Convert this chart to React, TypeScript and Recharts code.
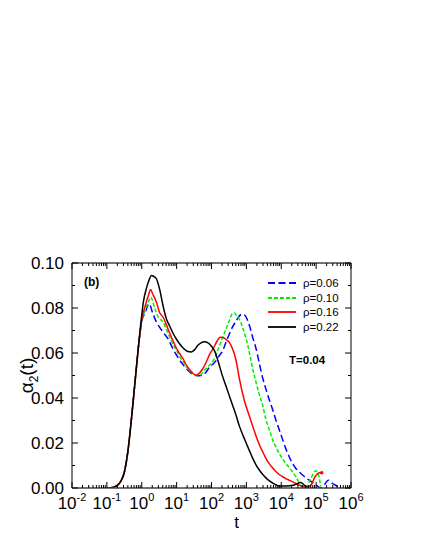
import React from 'react';
import { LineChart, Line, XAxis, YAxis, Legend } from 'recharts';

// ---- data: log10(t) exponents and alpha_2(t) values for each density ----
const expRise = [-1.0, -0.9, -0.8, -0.7, -0.6, -0.5, -0.4, -0.3, -0.2, -0.1];
const valRise = [0, 0.0001, 0.0004, 0.0012, 0.003, 0.007, 0.016, 0.03, 0.046, 0.062];

const expB = [0, 0.1, 0.21, 0.32, 0.42, 0.51, 0.61, 0.75, 0.89, 1.0, 1.09, 1.2, 1.28, 1.38, 1.47, 1.66, 1.85, 1.94, 2.04, 2.13, 2.23, 2.32, 2.42, 2.5, 2.6, 2.7, 2.8, 2.89, 2.97, 3.09, 3.18, 3.28, 3.37, 3.47, 3.56, 3.66, 3.75, 3.85, 3.94, 4.04, 4.13, 4.23, 4.32, 4.42, 4.51, 4.61, 4.7, 4.8, 4.9, 4.99, 5.07, 5.13, 5.23, 5.35, 5.47, 5.61, 5.66];
const valB = [0.074, 0.078, 0.0819, 0.0774, 0.0738, 0.0715, 0.0693, 0.0664, 0.062, 0.059, 0.0568, 0.0545, 0.053, 0.0515, 0.0504, 0.0499, 0.0516, 0.0537, 0.055, 0.0566, 0.059, 0.061, 0.065, 0.068, 0.0715, 0.074, 0.0765, 0.0773, 0.0765, 0.0721, 0.067, 0.0618, 0.0555, 0.0488, 0.044, 0.039, 0.035, 0.03, 0.026, 0.0215, 0.0175, 0.0138, 0.011, 0.0087, 0.0072, 0.0058, 0.0046, 0.0035, 0.0024, 0.0013, 0.0005, 0, 0.0013, 0.0035, 0.002, 0.0007, 0];

const expG = [0, 0.1, 0.2, 0.26, 0.37, 0.47, 0.61, 0.75, 0.89, 1.0, 1.09, 1.2, 1.28, 1.38, 1.47, 1.61, 1.7, 1.8, 1.9, 2.0, 2.1, 2.2, 2.3, 2.4, 2.5, 2.6, 2.66, 2.72, 2.8, 2.9, 2.99, 3.09, 3.18, 3.28, 3.37, 3.47, 3.56, 3.66, 3.75, 3.85, 3.94, 4.04, 4.13, 4.23, 4.32, 4.42, 4.47, 4.56, 4.71, 4.85, 4.99, 5.07, 5.13];
const valG = [0.074, 0.079, 0.083, 0.0848, 0.08, 0.076, 0.0738, 0.069, 0.064, 0.061, 0.0583, 0.0558, 0.0538, 0.052, 0.0509, 0.0499, 0.0505, 0.0523, 0.054, 0.0555, 0.058, 0.062, 0.066, 0.07, 0.074, 0.0775, 0.0778, 0.0765, 0.075, 0.071, 0.0665, 0.06, 0.053, 0.0468, 0.0415, 0.0365, 0.0305, 0.0258, 0.0215, 0.0182, 0.0153, 0.013, 0.0109, 0.009, 0.0072, 0.005, 0.0035, 0.0009, 0.0007, 0.0043, 0.0077, 0.0058, 0.0006];

const expR = [0, 0.1, 0.2, 0.25, 0.32, 0.42, 0.51, 0.61, 0.75, 0.89, 1.0, 1.09, 1.2, 1.28, 1.38, 1.47, 1.56, 1.65, 1.75, 1.85, 1.95, 2.05, 2.15, 2.25, 2.35, 2.42, 2.51, 2.6, 2.7, 2.8, 2.94, 3.09, 3.18, 3.28, 3.37, 3.47, 3.56, 3.66, 3.75, 3.85, 3.94, 4.04, 4.13, 4.23, 4.32, 4.42, 4.51, 4.62, 4.71, 4.85, 4.97, 5.09, 5.16];
const valR = [0.075, 0.081, 0.086, 0.0882, 0.086, 0.0826, 0.078, 0.076, 0.0708, 0.0656, 0.062, 0.0597, 0.057, 0.0546, 0.0525, 0.0509, 0.0501, 0.051, 0.053, 0.056, 0.0595, 0.062, 0.065, 0.067, 0.0668, 0.066, 0.0647, 0.062, 0.057, 0.0485, 0.039, 0.0318, 0.0275, 0.023, 0.0193, 0.016, 0.0132, 0.0107, 0.009, 0.0072, 0.006, 0.005, 0.0042, 0.0035, 0.0028, 0.002, 0.0013, 0.0007, 0.0004, 0.0013, 0.005, 0.0068, 0.0068];

const expK = [0, 0.05, 0.13, 0.2, 0.28, 0.35, 0.42, 0.51, 0.61, 0.71, 0.8, 0.89, 1.0, 1.09, 1.2, 1.3, 1.42, 1.52, 1.61, 1.7, 1.8, 1.9, 2.0, 2.1, 2.2, 2.3, 2.4, 2.5, 2.6, 2.7, 2.8, 2.9, 3.0, 3.09, 3.18, 3.28, 3.37, 3.47, 3.56, 3.66, 3.76, 3.85, 3.94, 4.13, 4.37, 4.56, 4.66, 4.75];
const valK = [0.077, 0.083, 0.0885, 0.092, 0.0944, 0.094, 0.093, 0.0885, 0.081, 0.075, 0.072, 0.069, 0.066, 0.064, 0.062, 0.0608, 0.0605, 0.0615, 0.0634, 0.0645, 0.065, 0.0645, 0.063, 0.0605, 0.0558, 0.0505, 0.046, 0.0415, 0.037, 0.0325, 0.0275, 0.0235, 0.0198, 0.0165, 0.0133, 0.0102, 0.008, 0.006, 0.0045, 0.0032, 0.0022, 0.0014, 0.0009, 0.0009, 0.0013, 0.0024, 0.0013, 0];

const seriesNames = ['\u03c1=0.06', '\u03c1=0.10', '\u03c1=0.16', '\u03c1=0.22'];

// tick definitions
const xMajorExps = [-2, -1, 0, 1, 2, 3, 4, 5, 6];
const xMinorMult = [2, 3, 4, 5, 6, 7, 8, 9];
const yTickValues = [0, 0.01, 0.02, 0.03, 0.04, 0.05, 0.06, 0.07, 0.08, 0.09, 0.1];

// ---- build tables ----
const build = (exps: number[], vals: number[]) => {
  const e = [...expRise, ...exps];
  const v = [...valRise, ...vals];
  return e.map((x, i) => ({ t: Math.pow(10, x), a: v[i] }));
};

const dataB = build(expB, valB);
const dataG = build(expG, valG);
const dataR = build(expR, valR);
const dataK = build(expK, valK);

const STYLES = [
  { color: '#0000ff', dash: '7 3.5' },
  { color: '#00ee00', dash: '4 2' },
  { color: '#ff0000', dash: undefined as string | undefined },
  { color: '#000000', dash: undefined as string | undefined },
];
const DATASETS = [dataB, dataG, dataR, dataK];

const xTicks: number[] = [];
xMajorExps.forEach((e, i) => {
  xTicks.push(Math.pow(10, e));
  if (i < xMajorExps.length - 1) xMinorMult.forEach((m) => xTicks.push(m * Math.pow(10, e)));
});

const FONT = '"Liberation Sans", Arial, Helvetica, sans-serif';

const isMajorX = (v: number) => {
  const l = Math.log10(v);
  return Math.abs(l - Math.round(l)) < 1e-6;
};
const isMajorY = (v: number) => Math.round(v * 100) % 2 === 0;

const BottomTick = (props: any) => {
  const { x, y, payload } = props;
  const v = payload.value;
  const major = isMajorX(v);
  const e = Math.round(Math.log10(v));
  return (
    <g>
      <line x1={x} x2={x} y1={y} y2={y - (major ? 6 : 3)} stroke="#000" strokeWidth={1} />
      {major && (
        <text x={x} y={y + 21} textAnchor="middle" fontSize={17} fontFamily={FONT} fill="#000">
          10<tspan dy={-8} fontSize={11}>{e}</tspan>
        </text>
      )}
    </g>
  );
};

const TopTick = (props: any) => {
  const { x, y, payload } = props;
  const major = isMajorX(payload.value);
  return <line x1={x} x2={x} y1={y} y2={y + (major ? 6 : 3)} stroke="#000" strokeWidth={1} />;
};

const LeftTick = (props: any) => {
  const { x, y, payload } = props;
  const v = payload.value;
  const major = isMajorY(v);
  return (
    <g>
      <line x1={x} x2={x + (major ? 6 : 3)} y1={y} y2={y} stroke="#000" strokeWidth={1} />
      {major && (
        <text x={x - 8} y={y} dy="0.36em" textAnchor="end" fontSize={17} fontFamily={FONT} fill="#000">
          {v.toFixed(2)}
        </text>
      )}
    </g>
  );
};

const RightTick = (props: any) => {
  const { x, y, payload } = props;
  const major = isMajorY(payload.value);
  return <line x1={x} x2={x - (major ? 6 : 3)} y1={y} y2={y} stroke="#000" strokeWidth={1} />;
};

const LegendContent = () => (
  <div style={{ fontFamily: FONT, fontSize: 11.5, color: '#000' }}>
    {seriesNames.map((n, i) => (
      <div key={n} style={{ display: 'flex', alignItems: 'center', height: 14.5 }}>
        <svg width={28} height={6} style={{ marginRight: 7 }}>
          <line x1={0} x2={28} y1={3} y2={3} stroke={STYLES[i].color} strokeWidth={1.8} strokeDasharray={STYLES[i].dash} />
        </svg>
        <span style={{ lineHeight: '14.5px' }}>{n}</span>
      </div>
    ))}
  </div>
);

const YLabel = (props: any) => {
  const vb = props.viewBox;
  const cx = vb.x + 11;
  const cy = vb.y + vb.height / 2;
  return (
    <text x={cx} y={cy} transform={`rotate(-90 ${cx} ${cy})`} textAnchor="middle" fontSize={19} fontFamily={FONT} fill="#000">
      {'\u03b1'}<tspan dy={5} fontSize={12}>2</tspan><tspan dy={-5}>(t)</tspan>
    </text>
  );
};

const XLabel = (props: any) => {
  const vb = props.viewBox;
  return (
    <text x={vb.x + vb.width / 2 + 25} y={vb.y + 40} textAnchor="middle" fontSize={17} fontFamily={FONT} fill="#000">
      t
    </text>
  );
};

export default function App() {
  const lastR = dataR.length - 1;
  return (
    <div style={{ position: 'relative', width: 409, height: 530 }}>
      <LineChart width={409} height={530} margin={{ top: 254, right: 65, left: 14, bottom: 4 }}>
        <XAxis
          xAxisId={0}
          dataKey="t"
          type="number"
          scale="log"
          domain={[0.01, 1e6]}
          allowDataOverflow
          ticks={xTicks}
          interval={0}
          tick={<BottomTick />}
          tickLine={false}
          tickSize={0}
          tickMargin={0}
          height={46}
          axisLine={{ stroke: '#444', strokeWidth: 1.6 }}
          label={<XLabel />}
        />
        <XAxis
          xAxisId="top"
          orientation="top"
          dataKey="t"
          type="number"
          scale="log"
          domain={[0.01, 1e6]}
          allowDataOverflow
          ticks={xTicks}
          interval={0}
          tick={<TopTick />}
          tickLine={false}
          tickSize={0}
          tickMargin={0}
          height={1}
          axisLine={{ stroke: '#444', strokeWidth: 1.6 }}
        />
        <YAxis
          yAxisId={0}
          type="number"
          domain={[0, 0.1]}
          allowDataOverflow
          ticks={yTickValues}
          interval={0}
          tick={<LeftTick />}
          tickLine={false}
          tickSize={0}
          tickMargin={0}
          width={50}
          axisLine={{ stroke: '#000', strokeWidth: 1 }}
          label={<YLabel />}
        />
        <YAxis
          yAxisId="right"
          orientation="right"
          type="number"
          domain={[0, 0.1]}
          allowDataOverflow
          ticks={yTickValues}
          interval={0}
          tick={<RightTick />}
          tickLine={false}
          tickSize={0}
          tickMargin={0}
          width={1}
          axisLine={{ stroke: '#000', strokeWidth: 1 }}
        />
        {DATASETS.map((d, i) => (
          <Line
            key={seriesNames[i]}
            name={seriesNames[i]}
            data={d}
            dataKey="a"
            xAxisId={0}
            yAxisId={0}
            type="monotone"
            stroke={STYLES[i].color}
            strokeWidth={1.5}
            strokeDasharray={STYLES[i].dash}
            dot={
              i === 2
                ? (p: any) =>
                    p.index === lastR ? (
                      <circle key="end" cx={p.cx} cy={p.cy} r={1.8} fill={STYLES[i].color} />
                    ) : (
                      <g key={`d${p.index}`} />
                    )
                : false
            }
            isAnimationActive={false}
          />
        ))}
        <Line
          key="frame"
          data={dataK}
          dataKey="a"
          xAxisId="top"
          yAxisId="right"
          stroke="none"
          dot={false}
          activeDot={false}
          legendType="none"
          isAnimationActive={false}
        />
        <Legend
          layout="vertical"
          align="center"
          verticalAlign="middle"
          content={<LegendContent />}
          wrapperStyle={{ left: 260, top: 268, width: 'auto', height: 'auto' }}
        />
      </LineChart>
      <div style={{ position: 'absolute', left: 76, top: 268, fontFamily: FONT, fontWeight: 'bold', fontSize: 12, lineHeight: '12px' }}>
        (b)
      </div>
      <div style={{ position: 'absolute', left: 281, top: 346, fontFamily: FONT, fontWeight: 'bold', fontSize: 11.5, lineHeight: '12px' }}>
        T=0.04
      </div>
    </div>
  );
}
